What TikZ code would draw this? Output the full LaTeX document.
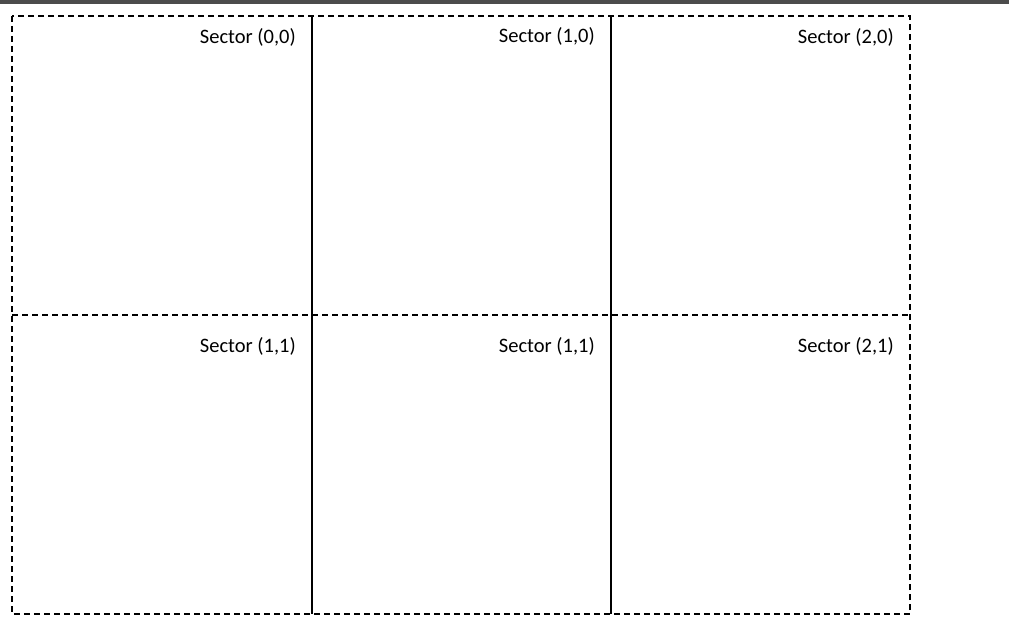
\documentclass[tikz,border=0pt]{standalone}
\usepackage{fontspec}
\setmainfont{Carlito}
\usetikzlibrary{positioning}

\begin{document}
\begin{tikzpicture}[x=1pt, y=-1pt,
    border/.style={line width=1.7pt, dash pattern=on 6pt off 4pt},
    divider/.style={line width=1.7pt},
    sectorname/.style={font=\fontsize{20.5}{24}\selectfont, anchor=base east, inner sep=0pt}]
    \useasboundingbox (0,0) rectangle (1009,626);
    % Top bar
    \fill[black!70] (0,0) rectangle (1009,4);

    % Corners of the grid
    \coordinate (tl) at (12,16);
    \coordinate (br) at (910,614);
    \coordinate (ml) at (12,315);
    \coordinate (mr) at (910,315);
    \coordinate (t1) at (312,16);
    \coordinate (b1) at (312,614);
    \coordinate (t2) at (611,16);
    \coordinate (b2) at (611,614);

    % Grid lines
    \draw[border] (tl) rectangle (br);
    \draw[border] (ml) -- (mr);
    \draw[divider] (t1) -- (b1);
    \draw[divider] (t2) -- (b2);

    % Sector names
    \node[sectorname] (s00) at (296,44) {Sector (0,0)};
    \node[sectorname] (s10) at (595,43) {Sector (1,0)};
    \node[sectorname] (s20) at (894,44) {Sector (2,0)};
    \node[sectorname] (s01) at (296,352) {Sector (1,1)};
    \node[sectorname] (s11) at (595,352) {Sector (1,1)};
    \node[sectorname] (s21) at (894,352) {Sector (2,1)};
\end{tikzpicture}
\end{document}
